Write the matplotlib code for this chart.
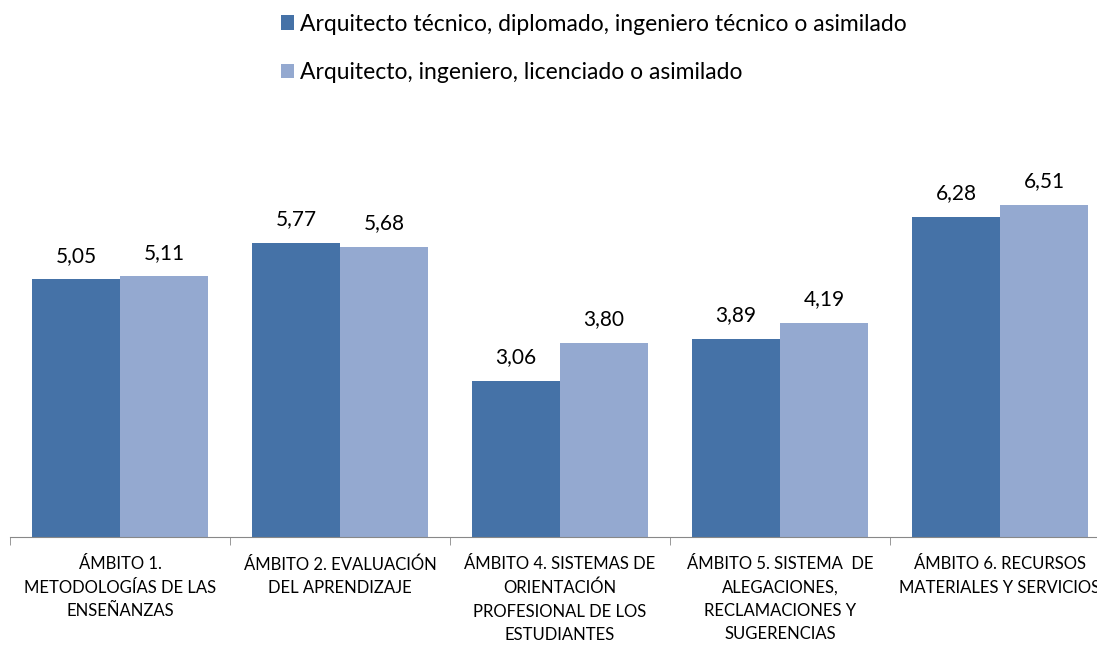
import numpy as np
import matplotlib.pyplot as plt

categorias = ["ÁMBITO 1.\nMETODOLOGÍAS DE LAS\nENSEÑANZAS",
              "ÁMBITO 2. EVALUACIÓN\nDEL APRENDIZAJE",
              "ÁMBITO 4. SISTEMAS DE\nORIENTACIÓN\nPROFESIONAL DE LOS\nESTUDIANTES",
              "ÁMBITO 5. SISTEMA  DE\nALEGACIONES,\nRECLAMACIONES Y\nSUGERENCIAS",
              "ÁMBITO 6. RECURSOS\nMATERIALES Y SERVICIOS"]
serie1_nombre = "Arquitecto técnico, diplomado, ingeniero técnico o asimilado"
serie2_nombre = "Arquitecto, ingeniero, licenciado o asimilado"
serie1 = [5.05, 5.77, 3.06, 3.89, 6.28]
serie2 = [5.11, 5.68, 3.80, 4.19, 6.51]

plt.rcParams['font.family'] = ['Lato', 'DejaVu Sans']

W, H = 1097, 645
fig = plt.figure(figsize=(W/100, H/100), dpi=100)
# axes: x from 10px to 1110px (right end cut off), y=0 at 537px, 51 px per unit
ax = fig.add_axes([10/W, (H-537)/H, 1100/W, 357/H])

x = np.arange(len(categorias))
w = 0.4
b1 = ax.bar(x - w/2, serie1, w, color='#4572A7', label=serie1_nombre)
b2 = ax.bar(x + w/2, serie2, w, color='#94A9D0', label=serie2_nombre)

for bars, vals in ((b1, serie1), (b2, serie2)):
    for r, v in zip(bars, vals):
        ax.text(r.get_x() + r.get_width()/2, v + 0.27, f"{v:.2f}".replace('.', ','),
                ha='center', va='bottom', fontsize=15, color='black')

ax.set_xlim(-0.5, len(categorias) - 0.5)
ax.set_ylim(0, 7)
ax.set_yticks([])
for s in ['top', 'right', 'left']:
    ax.spines[s].set_visible(False)
ax.spines['bottom'].set_color('#888888')

ax.set_xticks(x)
ax.set_xticklabels(categorias, fontsize=12, linespacing=1.55)
ax.tick_params(axis='x', which='major', length=0, pad=14)
ax.set_xticks(np.arange(len(categorias)) - 0.5, minor=True)
ax.tick_params(axis='x', which='minor', length=6, color='#888888')

fig.legend(loc='upper left', bbox_to_anchor=(260/W, 1 + 7/H), frameon=False,
           fontsize=16.5, handlelength=0.6, handleheight=0.6, handletextpad=0.25,
           labelspacing=1.2)

fig.savefig('out.png', dpi=100)
